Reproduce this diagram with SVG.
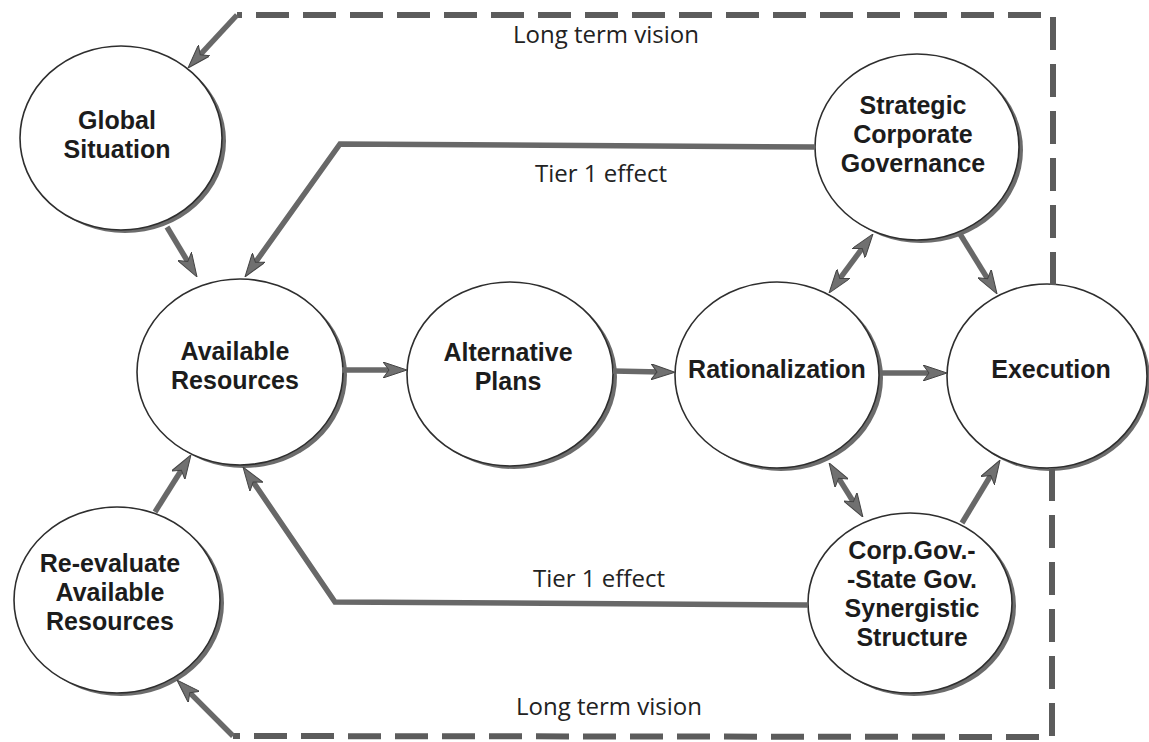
<svg xmlns="http://www.w3.org/2000/svg" width="1149" height="742" viewBox="0 0 1149 742">
  <defs>
    <style>
      .shadow { fill: #6c6c6c; }
      .disc { fill: #ffffff; stroke: #2e2e2e; stroke-width: 1.6; }
      .title { font-family: "Liberation Sans", Arial, sans-serif; font-weight: bold; font-size: 25px; fill: #1c1c1c; text-anchor: middle; }
      .label { font-family: "Open Sans", "Noto Sans", sans-serif; font-size: 24px; fill: #222222; text-anchor: middle; }
      .link { fill: none; stroke: #686868; stroke-width: 5.5; stroke-linejoin: miter; }
      .dash { fill: none; stroke: #5c5c5c; stroke-width: 6; stroke-dasharray: 33 14; }
    </style>
    <marker id="head" viewBox="0 0 24 16" refX="10" refY="8" markerWidth="24" markerHeight="16" markerUnits="userSpaceOnUse" orient="auto-start-reverse">
      <path d="M0,0 L24,8 L0,16 L6,8 Z" fill="#707070" stroke="#444444" stroke-width="1"/>
    </marker>
  </defs>

  <rect width="1149" height="742" fill="#ffffff"/>

  <!-- nodes: shaded disc with a thin outline -->
  <g id="global-situation">
    <ellipse class="shadow" cx="125" cy="141" rx="101" ry="92"/>
    <ellipse class="disc" cx="121" cy="138" rx="101" ry="92"/>
    <text class="title" x="117" y="129">Global</text>
    <text class="title" x="117" y="158">Situation</text>
  </g>

  <g id="available-resources">
    <ellipse class="shadow" cx="244" cy="375" rx="103" ry="93"/>
    <ellipse class="disc" cx="240" cy="372" rx="103" ry="93"/>
    <text class="title" x="235" y="360">Available</text>
    <text class="title" x="235" y="389">Resources</text>
  </g>

  <g id="alternative-plans">
    <ellipse class="shadow" cx="514" cy="377" rx="103" ry="92"/>
    <ellipse class="disc" cx="510" cy="374" rx="103" ry="92"/>
    <text class="title" x="508" y="361">Alternative</text>
    <text class="title" x="508" y="390">Plans</text>
  </g>

  <g id="rationalization">
    <ellipse class="shadow" cx="781" cy="378" rx="102" ry="93"/>
    <ellipse class="disc" cx="777" cy="375" rx="102" ry="93"/>
    <text class="title" x="777" y="378">Rationalization</text>
  </g>

  <g id="execution">
    <ellipse class="shadow" cx="1050" cy="379" rx="100" ry="92"/>
    <ellipse class="disc" cx="1047" cy="376" rx="100" ry="92"/>
    <text class="title" x="1051" y="378">Execution</text>
  </g>

  <g id="strategic-corporate-governance">
    <ellipse class="shadow" cx="921" cy="150" rx="102" ry="93"/>
    <ellipse class="disc" cx="917" cy="147" rx="102" ry="93"/>
    <text class="title" x="913" y="114">Strategic</text>
    <text class="title" x="913" y="143">Corporate</text>
    <text class="title" x="913" y="172">Governance</text>
  </g>

  <g id="synergistic-structure">
    <ellipse class="shadow" cx="914" cy="606" rx="102" ry="90"/>
    <ellipse class="disc" cx="910" cy="603" rx="102" ry="90"/>
    <text class="title" x="912" y="559">Corp.Gov.-</text>
    <text class="title" x="912" y="588">-State Gov.</text>
    <text class="title" x="912" y="617">Synergistic</text>
    <text class="title" x="912" y="646">Structure</text>
  </g>

  <g id="re-evaluate-resources">
    <ellipse class="shadow" cx="121" cy="603" rx="103" ry="93"/>
    <ellipse class="disc" cx="117" cy="600" rx="103" ry="93"/>
    <text class="title" x="110" y="572">Re-evaluate</text>
    <text class="title" x="110" y="601">Available</text>
    <text class="title" x="110" y="630">Resources</text>
  </g>

  <!-- connectors -->
  <g id="connectors">
    <!-- long term vision feedback loops -->
    <path class="dash" d="M1053,285 L1053,15 L237,15"/>
    <path class="link" d="M237,15 L197.5,57.7" marker-end="url(#head)"/>
    <path class="dash" d="M1052,468 L1052,737 L233,736"/>
    <path class="link" d="M233,736 L186.9,689.9" marker-end="url(#head)"/>

    <!-- tier 1 effect returns -->
    <path class="link" d="M815,147 L340,144 L253.1,265.6" marker-end="url(#head)"/>
    <path class="link" d="M808,605 L335,602 L250.9,478.6" marker-end="url(#head)"/>

    <!-- inputs to available resources -->
    <path class="link" d="M167,227 L189.8,265" marker-end="url(#head)"/>
    <path class="link" d="M155,512 L183.5,466.8" marker-end="url(#head)"/>

    <!-- main flow -->
    <path class="link" d="M342,370 L393,370" marker-end="url(#head)"/>
    <path class="link" d="M613,371 L661,372" marker-end="url(#head)"/>
    <path class="link" d="M880,373 L933,373" marker-end="url(#head)"/>

    <!-- governance links -->
    <path class="link" d="M864.6,245.2 L837.4,281.8" marker-start="url(#head)" marker-end="url(#head)"/>
    <path class="link" d="M960,234 L989.7,282.1" marker-end="url(#head)"/>
    <path class="link" d="M836.5,474.8 L855.5,505.2" marker-start="url(#head)" marker-end="url(#head)"/>
    <path class="link" d="M962,523 L992.8,472" marker-end="url(#head)"/>

    <text class="label" x="606" y="43">Long term vision</text>
    <text class="label" x="601" y="182">Tier 1 effect</text>
    <text class="label" x="599" y="587">Tier 1 effect</text>
    <text class="label" x="609" y="715">Long term vision</text>
  </g>
</svg>
